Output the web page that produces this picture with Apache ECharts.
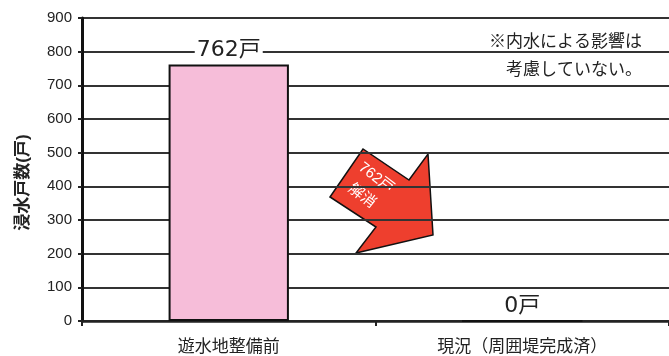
<!DOCTYPE html>
<html>
<head>
<meta charset="utf-8">
<script src="https://cdn.jsdelivr.net/npm/echarts@6/dist/echarts.min.js"></script>
<style>
  html, body { margin: 0; padding: 0; background: #fff; }
  #chart { width: 669px; height: 356px; }
</style>
</head>
<body>
<div id="chart"></div>
<script>
// Flooded households before and after the retention basin works
const categories = ['遊水地整備前', '現況（周囲堤完成済）'];
const households = [762, 0];
const yTicks = { min: 0, max: 900, interval: 100 };
const axisName = '浸水戸数(戸)';
const noteLines = ['※内水による影響は', '考慮していない。'];
const arrowText = '762戸\n解消';

const FONT = '"Liberation Sans", "Noto Sans CJK JP", sans-serif';
const WIDE_FONT = '"DejaVu Sans", "Noto Sans CJK JP", sans-serif';
const chart = echarts.init(document.getElementById('chart'));

chart.setOption({
  animation: false,
  backgroundColor: '#fff',
  grid: { left: 82, right: 0, top: 18, bottom: 33 },
  xAxis: {
    type: 'category',
    data: categories,
    axisLine: { lineStyle: { color: '#222', width: 2.5 } },
    axisTick: { show: true, alignWithLabel: false, length: 5, lineStyle: { color: '#222', width: 2 } },
    axisLabel: { margin: 18, fontSize: 17, color: '#222', fontFamily: FONT }
  },
  yAxis: {
    type: 'value',
    min: yTicks.min, max: yTicks.max, interval: yTicks.interval,
    name: axisName,
    nameLocation: 'middle',
    nameRotate: 90,
    nameGap: 50,
    nameTextStyle: {
      fontSize: 17, fontWeight: 'bold', color: '#222', fontFamily: FONT,
      padding: [0, 26, 0, 0]
    },
    axisLine: { show: true, lineStyle: { color: '#111', width: 3 } },
    axisTick: { show: true, length: 4, lineStyle: { color: '#222', width: 2 } },
    axisLabel: { margin: 10, fontSize: 15, color: '#222', fontFamily: FONT },
    splitLine: { lineStyle: { color: '#333', width: 2 } }
  },
  series: [{
    type: 'bar',
    data: households,
    barWidth: '41%',
    itemStyle: { color: '#F6BDD9', borderColor: '#111', borderWidth: 2 },
    label: {
      show: true,
      position: 'top',
      distance: 3,
      formatter: p => p.value + '戸',
      fontSize: 22,
      color: '#222',
      fontFamily: WIDE_FONT,
      backgroundColor: '#fff',
      padding: [0, 2]
    }
  }],
  graphic: [
    {
      type: 'text',
      left: 487, top: 32,
      style: {
        text: noteLines[0], fontSize: 17, fill: '#222', fontFamily: FONT,
        backgroundColor: '#fff', padding: [2, 2]
      }
    },
    {
      type: 'text',
      left: 504, top: 60,
      style: {
        text: noteLines[1], fontSize: 17, fill: '#222', fontFamily: FONT,
        backgroundColor: '#fff', padding: [2, 2]
      }
    },
    {
      type: 'polygon',
      shape: {
        points: [[330, 197], [363, 149], [409, 180], [428, 154], [433, 235], [356, 253], [376, 227]]
      },
      style: { fill: '#EE3F2E', stroke: '#111', lineWidth: 1.5 }
    },
    {
      type: 'text',
      x: 369, y: 187,
      rotation: -0.66,
      style: {
        text: arrowText, fontSize: 15, fill: '#fff', fontFamily: FONT,
        align: 'center', verticalAlign: 'middle', lineHeight: 23
      }
    }
  ]
});
</script>
</body>
</html>
